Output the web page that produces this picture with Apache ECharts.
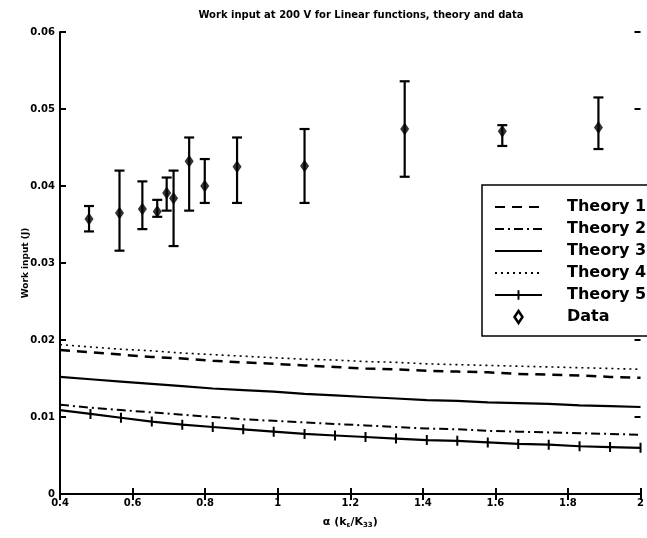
<!DOCTYPE html>
<html>
<head>
<meta charset="utf-8">
<script src="https://cdn.jsdelivr.net/npm/echarts@6/dist/echarts.min.js"></script>
<style>
  html, body { margin: 0; padding: 0; background: #fff; }
  #chart { width: 647px; height: 538px; }
</style>
</head>
<body>
<div id="chart"></div>
<script>
// Alpha values at which the theory curves are evaluated
const alphaGrid = [0.4, 0.484, 0.568, 0.653, 0.737, 0.821, 0.905, 0.989, 1.074, 1.158,
                   1.242, 1.326, 1.411, 1.495, 1.579, 1.663, 1.747, 1.832, 1.916, 2.0];

// Theoretical work input (J) for each model
const theory1 = [0.0187, 0.0184, 0.0181, 0.0178, 0.0176, 0.0173, 0.0171, 0.0169, 0.0167, 0.0165,
                 0.0163, 0.0162, 0.0160, 0.0159, 0.0158, 0.0156, 0.0155, 0.0154, 0.0152, 0.0151];
const theory2 = [0.0116, 0.0112, 0.0109, 0.0106, 0.0103, 0.0100, 0.0097, 0.0095, 0.0093, 0.0091,
                 0.0089, 0.0087, 0.0085, 0.0084, 0.0082, 0.0081, 0.0080, 0.0079, 0.0078, 0.0077];
const theory3 = [0.0152, 0.0149, 0.0146, 0.0143, 0.0140, 0.0137, 0.0135, 0.0133, 0.0130, 0.0128,
                 0.0126, 0.0124, 0.0122, 0.0121, 0.0119, 0.0118, 0.0117, 0.0115, 0.0114, 0.0113];
const theory4 = [0.0194, 0.0191, 0.0188, 0.0186, 0.0183, 0.0181, 0.0179, 0.0177, 0.0175, 0.0174,
                 0.0172, 0.0171, 0.0169, 0.0168, 0.0167, 0.0166, 0.0165, 0.0164, 0.0163, 0.0162];
const theory5 = [0.0109, 0.0104, 0.0099, 0.0094, 0.0090, 0.0087, 0.0084, 0.0081, 0.0078, 0.0076,
                 0.0074, 0.0072, 0.0070, 0.0069, 0.0067, 0.0065, 0.0064, 0.0062, 0.0061, 0.0060];

// Measured work input with error bounds
const dataAlpha = [0.480, 0.564, 0.627, 0.668, 0.694, 0.713, 0.756, 0.799, 0.888, 1.074, 1.350, 1.619, 1.884];
const dataWork  = [0.0357, 0.0365, 0.0370, 0.0367, 0.0391, 0.0384, 0.0432, 0.0400, 0.0425, 0.0426, 0.0474, 0.0471, 0.0476];
const dataHigh  = [0.0374, 0.0420, 0.0406, 0.0382, 0.0411, 0.0420, 0.0463, 0.0435, 0.0463, 0.0474, 0.0536, 0.0479, 0.0515];
const dataLow   = [0.0341, 0.0316, 0.0344, 0.0360, 0.0368, 0.0322, 0.0368, 0.0378, 0.0378, 0.0378, 0.0412, 0.0452, 0.0448];

const FONT = 'DejaVu Sans';
const pair = (xs, ys) => xs.map((x, i) => [x, ys[i]]);
const HIDDEN = 'rgba(0,0,0,0)';
// Vertical bar inside a square box (the zero-area subpaths only widen the box)
const TICK_MARK = 'path://M4,0 L6,0 L6,10 L4,10 Z M0,5 L0,5 Z M10,5 L10,5 Z';
const DIAMOND = 'path://M4,0 L8,6 L4,12 L0,6 Z';

const chart = echarts.init(document.getElementById('chart'), null, { renderer: 'canvas' });

const axisLine = { show: true, lineStyle: { color: '#000', width: 2 } };
const insideTick = { show: true, inside: true, length: 6, lineStyle: { color: '#000', width: 2 } };

const plainLine = (name, values, lineStyle) => ({
  name, type: 'line', data: pair(alphaGrid, values), symbol: 'none', silent: true,
  itemStyle: { color: HIDDEN },
  lineStyle: Object.assign({ color: '#000' }, lineStyle)
});

const option = {
  animation: false,
  backgroundColor: '#fff',
  title: {
    text: 'Work input at 200 V for Linear functions, theory and data',
    left: 356, top: 5, textAlign: 'center',
    textStyle: { fontFamily: FONT, fontSize: 10, fontWeight: 'bold', color: '#000' }
  },
  grid: { left: 60, top: 32, right: 2, bottom: 44, containLabel: false },
  xAxis: [{
    type: 'value', min: 0.4, max: 2, interval: 0.2,
    axisLine, axisTick: insideTick, splitLine: { show: false },
    axisLabel: { fontFamily: FONT, fontSize: 10, fontWeight: 'bold', color: '#000', margin: 4 },
    name: '{b|α (k}{s|ε}{b|/K}{s|33}{b|)}',
    nameLocation: 'middle', nameGap: 22,
    nameTextStyle: {
      rich: {
        b: { fontFamily: FONT, fontSize: 11, fontWeight: 'bold', color: '#000' },
        s: { fontFamily: FONT, fontSize: 7, fontWeight: 'bold', color: '#000', verticalAlign: 'bottom', padding: [6, 0, 0, 0] }
      }
    }
  }, {
    type: 'value', position: 'top', min: 0.4, max: 2, interval: 0.2,
    axisLine, axisTick: insideTick, axisLabel: { show: false }, splitLine: { show: false }
  }],
  yAxis: [{
    type: 'value', min: 0, max: 0.06, interval: 0.01,
    axisLine, axisTick: insideTick, splitLine: { show: false },
    axisLabel: { fontFamily: FONT, fontSize: 10, fontWeight: 'bold', color: '#000', margin: 5 },
    name: 'Work input (J)', nameLocation: 'middle', nameGap: 30, nameMoveOverlap: false,
    nameTextStyle: { fontFamily: FONT, fontSize: 9, fontWeight: 'bold', color: '#000' }
  }, {
    type: 'value', position: 'right', min: 0, max: 0.06, interval: 0.01,
    axisLine: { show: false }, axisTick: insideTick, axisLabel: { show: false }, splitLine: { show: false }
  }],
  legend: {
    orient: 'vertical', left: 482, top: 185,
    backgroundColor: '#fff', borderColor: '#000', borderWidth: 1.5,
    padding: [14, 40, 11, 12],
    itemWidth: 47, itemHeight: 12, itemGap: 6, symbolKeepAspect: true,
    textStyle: { fontFamily: FONT, fontSize: 16, fontWeight: 'bold', color: '#000', lineHeight: 16, padding: [0, 0, 0, 20] },
    data: ['Theory 1', 'Theory 2', 'Theory 3', 'Theory 4', 'Theory 5',
           { name: 'Data', icon: DIAMOND, itemStyle: { color: '#fff', borderColor: '#000', borderWidth: 2.5 } }]
  },
  series: [
    plainLine('Theory 1', theory1, { width: 2.5, type: [10, 7] }),
    plainLine('Theory 2', theory2, { width: 2, type: [9, 4, 2, 4] }),
    plainLine('Theory 3', theory3, { width: 2.2 }),
    plainLine('Theory 4', theory4, { width: 1.6, type: [2, 4] }),
    { name: 'Theory 5', type: 'line', data: pair(alphaGrid, theory5), silent: true,
      symbol: TICK_MARK, symbolSize: 10, showAllSymbol: true,
      itemStyle: { color: '#000' },
      lineStyle: { color: '#000', width: 2.2 } },
    { name: 'Data', type: 'custom', silent: true,
      data: dataAlpha.map((x, i) => [x, dataHigh[i], dataLow[i]]),
      encode: { x: 0, y: [1, 2] },
      renderItem: function (params, api) {
        const x = api.value(0);
        const top = api.coord([x, api.value(1)]);
        const bot = api.coord([x, api.value(2)]);
        const cap = 5;
        const style = { stroke: '#000', lineWidth: 2.2 };
        return {
          type: 'group',
          children: [
            { type: 'line', shape: { x1: top[0], y1: top[1], x2: bot[0], y2: bot[1] }, style },
            { type: 'line', shape: { x1: top[0] - cap, y1: top[1], x2: top[0] + cap, y2: top[1] }, style },
            { type: 'line', shape: { x1: bot[0] - cap, y1: bot[1], x2: bot[0] + cap, y2: bot[1] }, style }
          ]
        };
      }
    },
    { name: 'Data', type: 'scatter', data: pair(dataAlpha, dataWork), silent: true,
      symbol: 'diamond', symbolSize: [9, 13], itemStyle: { color: '#000' } }
  ]
};

chart.setOption(option);
</script>
</body>
</html>
